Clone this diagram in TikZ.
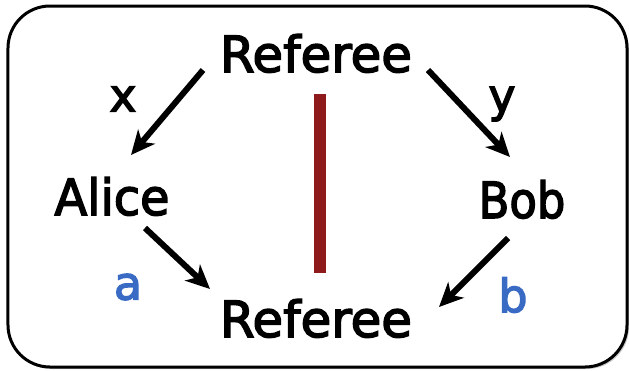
\documentclass[tikz,border=0pt]{standalone}
\usepackage{fontspec}
\setmainfont{DejaVu Sans}[FakeBold=3]
\usetikzlibrary{arrows.meta,shadows}
\definecolor{barred}{RGB}{142,26,28}
\definecolor{lblue}{RGB}{58,107,196}
\begin{document}
\begin{tikzpicture}[x=1bp,y=-1bp,
  lbl/.style={font=\fontsize{50}{54}\selectfont, inner sep=0pt, anchor=base},
  small/.style={font=\fontsize{46}{50}\selectfont, inner sep=0pt},
  arr/.style={line width=6bp, -{Stealth[length=24bp,width=22bp,inset=7bp]}},
  frame/.style={draw=black, line width=3bp, rounded corners=42bp, fill=white,
    drop shadow={shadow xshift=2bp, shadow yshift=-2bp, opacity=0.35, fill=black!60}}]
\useasboundingbox (0,0) rectangle (629,370);
\node[frame, minimum width=619bp, minimum height=361bp, inner sep=0pt] (box) at (317.5,186.5) {};
\node[lbl, xscale=1.0] (reft) at (316,72) {Referee};
\node[lbl, xscale=0.96] (alice) at (112,215) {Alice};
\node[lbl, xscale=0.9] (bob) at (522,218) {Bob};
\node[lbl, xscale=1.0] (refb) at (316,337) {Referee};
\coordinate (t1s) at (203,70); \coordinate (t1e) at (131,155);
\coordinate (t2s) at (428,70); \coordinate (t2e) at (510,157);
\coordinate (a1s) at (145,228); \coordinate (a1e) at (210,289);
\coordinate (b1s) at (508,238); \coordinate (b1e) at (439,307);
\draw[arr] (t1s) -- (t1e);
\draw[arr] (t2s) -- (t2e);
\draw[arr] (a1s) -- (a1e);
\draw[arr] (b1s) -- (b1e);
\node[small] (lx) at (123,99) {x};
\node[small] (ly) at (502,104) {y};
\node[small, text=lblue] (la) at (128,287) {a};
\node[small, text=lblue] (lb) at (513,295) {b};
\fill[barred] (314,94) rectangle (326,273);
\end{tikzpicture}
\end{document}
